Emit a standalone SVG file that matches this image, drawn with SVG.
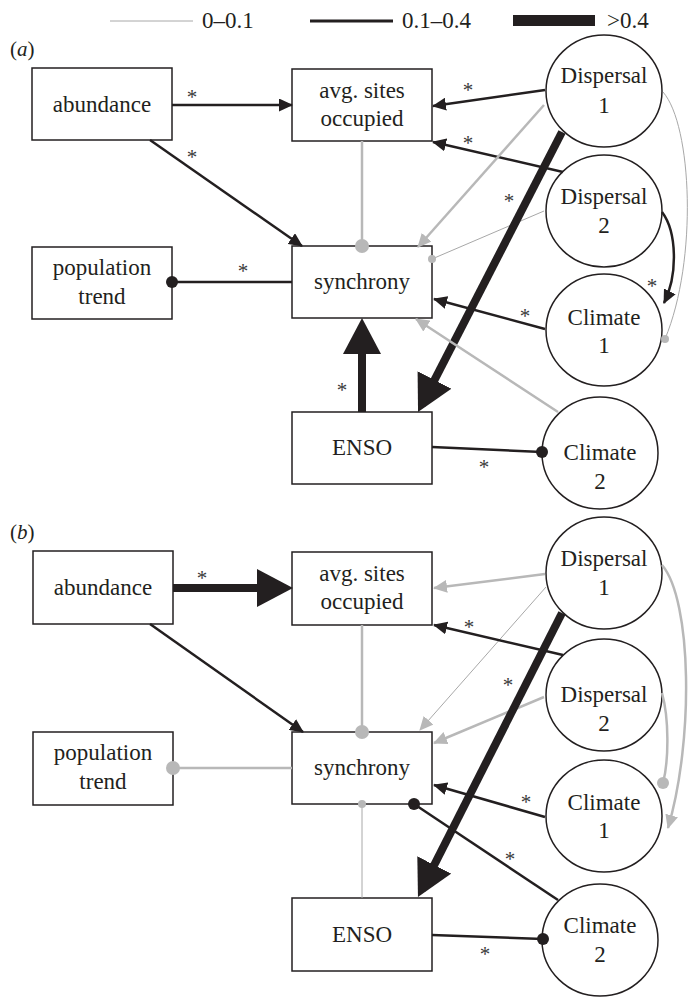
<svg xmlns="http://www.w3.org/2000/svg" width="688" height="1000" viewBox="0 0 688 1000">
<style>
.bx{fill:#fff;stroke:#231f20;stroke-width:1.5}
.t{font-family:"Liberation Serif","Times New Roman",serif;font-size:23px;fill:#231f20;text-anchor:middle}
.lg{font-family:"Liberation Serif","Times New Roman",serif;font-size:23px;fill:#231f20}
.pl{font-family:"Liberation Serif","Times New Roman",serif;font-size:21px;fill:#231f20}
.st{font-family:"Liberation Serif","Times New Roman",serif;font-size:21px;fill:#3a3a3a;text-anchor:middle}
.k{stroke:#231f20;stroke-width:2.5;fill:none}
.g{stroke:#b8b8b8;stroke-width:2.5;fill:none}
.gt{stroke:#a8a8a8;stroke-width:1;fill:none}
.kk{stroke:#231f20;stroke-width:8;fill:none}
.dk{fill:#231f20}
.dg{fill:#b8b8b8}
.ka{marker-end:url(#ak)}
.ga{marker-end:url(#ag)}
.ta{marker-end:url(#at)}
</style>
<defs>
<marker id="ak" markerUnits="userSpaceOnUse" markerWidth="14" markerHeight="13" refX="13" refY="6.5" orient="auto"><path d="M0,0 L14,6.5 L0,13 z" fill="#231f20"/></marker>
<marker id="ag" markerUnits="userSpaceOnUse" markerWidth="14" markerHeight="13" refX="13" refY="6.5" orient="auto"><path d="M0,0 L14,6.5 L0,13 z" fill="#b8b8b8"/></marker>
<marker id="at" markerUnits="userSpaceOnUse" markerWidth="36" markerHeight="38" refX="28" refY="19" orient="auto"><path d="M0,0 L36,19 L0,38 z" fill="#231f20"/></marker>
</defs>

<g id="legend">
<line x1="110" y1="21" x2="193" y2="21" stroke="#a8a8a8" stroke-width="1"/>
<text class="lg" x="202" y="28">0–0.1</text>
<line x1="310" y1="21" x2="393" y2="21" stroke="#231f20" stroke-width="3"/>
<text class="lg" x="402" y="28">0.1–0.4</text>
<rect x="513" y="15" width="82" height="11" fill="#231f20"/>
<text class="lg" x="607" y="28">&gt;0.4</text>
</g>

<g id="label-a"><text class="pl" x="10" y="56">(<tspan font-style="italic">a</tspan>)</text></g>
<g id="label-b"><text class="pl" x="10" y="539">(<tspan font-style="italic">b</tspan>)</text></g>

<!-- Panel a nodes -->
<g id="a-abundance"><rect class="bx" x="32" y="68" width="140" height="72"/><text class="t" x="102" y="112">abundance</text></g>
<g id="a-avg"><rect class="bx" x="292" y="69" width="140" height="72"/><text class="t" x="362" y="98">avg. sites</text><text class="t" x="362" y="126">occupied</text></g>
<g id="a-poptrend"><rect class="bx" x="32" y="247" width="140" height="72"/><text class="t" x="102" y="275">population</text><text class="t" x="102" y="304">trend</text></g>
<g id="a-synchrony"><rect class="bx" x="292" y="246" width="140" height="72"/><text class="t" x="362" y="289">synchrony</text></g>
<g id="a-enso"><rect class="bx" x="292" y="412" width="140" height="72"/><text class="t" x="362" y="455">ENSO</text></g>
<g id="a-disp1"><ellipse class="bx" cx="604" cy="91" rx="58" ry="56"/><text class="t" x="604" y="83">Dispersal</text><text class="t" x="604" y="113">1</text></g>
<g id="a-disp2"><ellipse class="bx" cx="604" cy="211" rx="58" ry="56"/><text class="t" x="604" y="204">Dispersal</text><text class="t" x="604" y="233">2</text></g>
<g id="a-clim1"><ellipse class="bx" cx="604" cy="330" rx="58" ry="56"/><text class="t" x="604" y="325">Climate</text><text class="t" x="604" y="353">1</text></g>
<g id="a-clim2"><ellipse class="bx" cx="600" cy="453" rx="58" ry="56"/><text class="t" x="600" y="460">Climate</text><text class="t" x="600" y="489">2</text></g>

<!-- Panel b nodes -->
<g id="b-abundance"><rect class="bx" x="33" y="551" width="140" height="73"/><text class="t" x="103" y="595">abundance</text></g>
<g id="b-avg"><rect class="bx" x="292" y="552" width="140" height="73"/><text class="t" x="362" y="581">avg. sites</text><text class="t" x="362" y="609">occupied</text></g>
<g id="b-poptrend"><rect class="bx" x="33" y="732" width="140" height="73"/><text class="t" x="103" y="760">population</text><text class="t" x="103" y="789">trend</text></g>
<g id="b-synchrony"><rect class="bx" x="292" y="732" width="140" height="72"/><text class="t" x="362" y="775">synchrony</text></g>
<g id="b-enso"><rect class="bx" x="292" y="898" width="140" height="73"/><text class="t" x="362" y="942">ENSO</text></g>
<g id="b-disp1"><ellipse class="bx" cx="604" cy="573" rx="58" ry="56"/><text class="t" x="604" y="566">Dispersal</text><text class="t" x="604" y="595">1</text></g>
<g id="b-disp2"><ellipse class="bx" cx="604" cy="695" rx="58" ry="56"/><text class="t" x="604" y="702">Dispersal</text><text class="t" x="604" y="731">2</text></g>
<g id="b-clim1"><ellipse class="bx" cx="604" cy="816" rx="58" ry="56"/><text class="t" x="604" y="810">Climate</text><text class="t" x="604" y="838">1</text></g>
<g id="b-clim2"><ellipse class="bx" cx="600" cy="940" rx="58" ry="56"/><text class="t" x="600" y="933">Climate</text><text class="t" x="600" y="962">2</text></g>

<g id="connectors">
<!-- panel a -->
<line class="k ka" x1="172" y1="105" x2="292" y2="105"/>
<line class="k ka" x1="150" y1="140" x2="302" y2="246"/>
<line class="k" x1="172" y1="282" x2="292" y2="282"/><circle class="dk" cx="172" cy="282" r="6"/>
<line class="g" x1="362" y1="141" x2="362" y2="246"/><circle class="dg" cx="362" cy="246" r="7"/>
<line class="kk ta" x1="362" y1="412" x2="362" y2="326"/>
<line class="k ka" x1="545" y1="90" x2="433" y2="106"/>
<line class="k ka" x1="563" y1="172" x2="433" y2="142"/>
<line class="g ga" x1="544" y1="105" x2="418" y2="247"/>
<line class="gt" x1="544" y1="211" x2="432" y2="259"/><circle class="dg" cx="432" cy="259" r="4"/>
<line class="kk ta" x1="562" y1="132" x2="421.7" y2="404.9"/>
<path class="k ka" d="M662,212 C677,232 678,275 664,303"/>
<path class="gt" d="M663,92 C692,125 698,260 665,339"/><circle class="dg" cx="665" cy="339" r="4"/>
<line class="k ka" x1="545" y1="329" x2="434" y2="299"/>
<line class="g ga" x1="558" y1="412" x2="416" y2="319"/>
<line class="k" x1="432" y1="447" x2="542" y2="452"/><circle class="dk" cx="542" cy="452" r="6"/>
<!-- panel b -->
<line class="kk ta" x1="173" y1="588" x2="285" y2="588"/>
<line class="k ka" x1="150" y1="624" x2="303" y2="732"/>
<line class="g" x1="173" y1="768" x2="292" y2="768"/><circle class="dg" cx="173" cy="768" r="7"/>
<line class="g" x1="362" y1="625" x2="362" y2="732"/><circle class="dg" cx="362" cy="732" r="7"/>
<line class="gt" x1="362" y1="804" x2="362" y2="898"/><circle class="dg" cx="362" cy="804" r="4"/>
<line class="g ga" x1="545" y1="574" x2="434" y2="588"/>
<line class="gt ga" x1="546" y1="587" x2="420" y2="730"/>
<line class="k ka" x1="563" y1="655" x2="434" y2="625"/>
<line class="g ga" x1="544" y1="697" x2="434" y2="743"/>
<line class="kk ta" x1="562" y1="613" x2="421.6" y2="889.9"/>
<path class="g" d="M662,693 C669,718 669,760 663,783"/><circle class="dg" cx="663" cy="783" r="6"/>
<path class="g ga" d="M662,565 C692,600 694,740 668,828"/>
<line class="k ka" x1="545" y1="817" x2="434" y2="785"/>
<line class="k" x1="558" y1="900" x2="414" y2="804"/><circle class="dk" cx="414" cy="804" r="6"/>
<line class="k" x1="432" y1="935" x2="543" y2="939"/><circle class="dk" cx="543" cy="939" r="6"/>
</g>

<g id="stars">
<text class="st" x="192" y="104">*</text>
<text class="st" x="192" y="164">*</text>
<text class="st" x="243" y="278">*</text>
<text class="st" x="342" y="397">*</text>
<text class="st" x="468" y="97">*</text>
<text class="st" x="468" y="150">*</text>
<text class="st" x="509" y="208">*</text>
<text class="st" x="652" y="293">*</text>
<text class="st" x="525" y="323">*</text>
<text class="st" x="484" y="474">*</text>
<text class="st" x="202" y="585">*</text>
<text class="st" x="469" y="634">*</text>
<text class="st" x="508" y="692">*</text>
<text class="st" x="526" y="809">*</text>
<text class="st" x="510" y="866">*</text>
<text class="st" x="485" y="961">*</text>
</g>
</svg>
